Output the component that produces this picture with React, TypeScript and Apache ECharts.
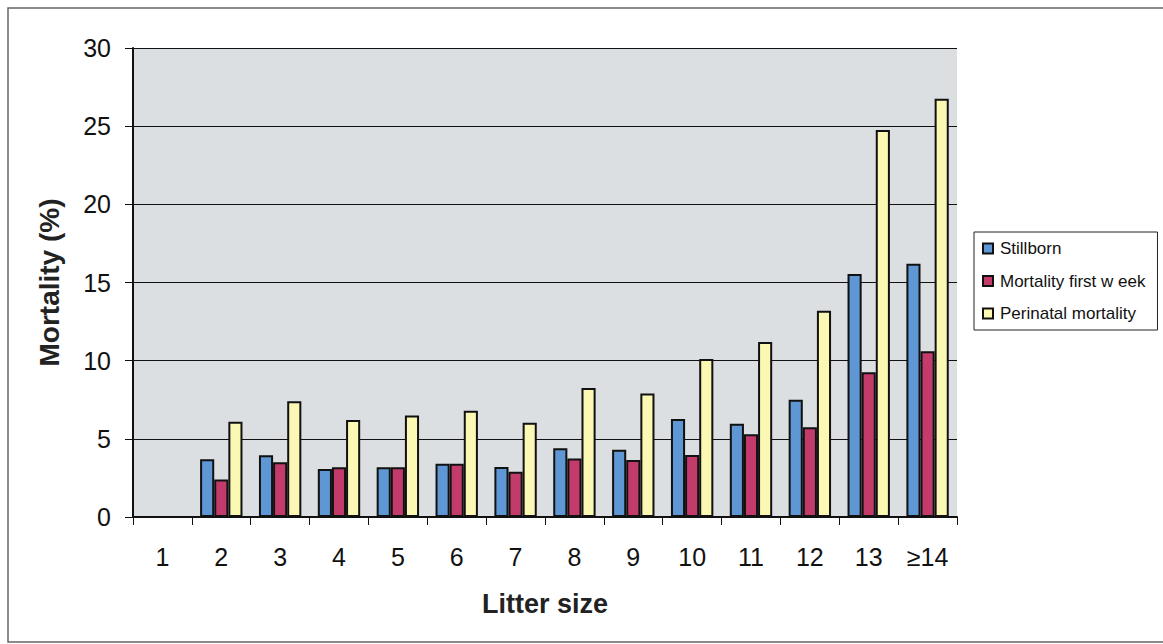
import React, { useEffect, useRef } from "react";
import * as echarts from "echarts";

const categories = ["1", "2", "3", "4", "5", "6", "7", "8", "9", "10", "11", "12", "13", "≥14"];
const stillborn = [null, 3.7, 3.95, 3.07, 3.18, 3.4, 3.2, 4.4, 4.3, 6.27, 5.97, 7.5, 15.55, 16.2];
const mortalityFirstWeek = [null, 2.4, 3.5, 3.18, 3.18, 3.4, 2.9, 3.75, 3.65, 3.97, 5.3, 5.74, 9.26, 10.6];
const perinatalMortality = [null, 6.1, 7.4, 6.2, 6.5, 6.8, 6.03, 8.25, 7.9, 10.1, 11.2, 13.2, 24.76, 26.75];
const seriesNames = ["Stillborn", "Mortality first w eek", "Perinatal mortality"];

export default function App() {
  const ref = useRef<HTMLDivElement>(null);
  useEffect(() => {
    if (!ref.current) return;
    const chart = echarts.init(ref.current, undefined, { renderer: "svg" });
    const font = "'Liberation Sans', Arial, sans-serif";
    const mk = (name: string, data: (number | null)[], color: string) => ({
      name,
      type: "bar",
      data,
      barGap: "0%",
      barCategoryGap: "28%",
      itemStyle: { color, borderColor: "#111", borderWidth: 2 },
    });
    chart.setOption({
      animation: false,
      backgroundColor: "#ffffff",
      textStyle: { fontFamily: font },
      graphic: [
        {
          type: "rect",
          shape: { x: 8, y: 8, width: 1165, height: 634 },
          style: { fill: "none", stroke: "#666", lineWidth: 1.5 },
          silent: true,
          z: -10,
        },
      ],
      grid: { left: 133, top: 48, right: 206, bottom: 127, show: true, backgroundColor: "#dcdfe2", borderWidth: 0 },
      legend: {
        orient: "vertical",
        left: 974,
        top: 232,
        padding: [8, 12, 8, 8],
        borderColor: "#222",
        borderWidth: 1,
        itemWidth: 10,
        itemHeight: 10,
        itemGap: 15.5,
        icon: "rect",
        textStyle: { fontSize: 17, color: "#111", fontFamily: font, padding: [0, 0, 0, 2] },
        data: seriesNames,
      },
      xAxis: {
        type: "category",
        data: categories,
        name: "Litter size",
        nameLocation: "middle",
        nameGap: 73,
        nameTextStyle: { fontSize: 27, fontWeight: "bold", color: "#222" },
        axisLine: { lineStyle: { color: "#111", width: 2 } },
        axisTick: { show: true, length: 8, lineStyle: { color: "#111" } },
        axisLabel: { fontSize: 25, color: "#111", margin: 27 },
      },
      yAxis: {
        type: "value",
        min: 0,
        max: 30,
        interval: 5,
        name: "Mortality (%)",
        nameLocation: "middle",
        nameGap: 70,
        nameTextStyle: { fontSize: 28, fontWeight: "bold", color: "#222" },
        axisLine: { show: true, lineStyle: { color: "#111", width: 2 } },
        axisTick: { show: true, length: 8, lineStyle: { color: "#111" } },
        axisLabel: { fontSize: 25, color: "#111", margin: 22 },
        splitLine: { lineStyle: { color: "#111", width: 1.2 } },
      },
      series: [
        mk(seriesNames[0], stillborn, "#5f96d4"),
        mk(seriesNames[1], mortalityFirstWeek, "#c23b6b"),
        mk(seriesNames[2], perinatalMortality, "#fbf8b3"),
      ],
    });
    return () => chart.dispose();
  }, []);
  return <div ref={ref} style={{ width: 1163, height: 644, position: "absolute", left: 0, top: 0 }} />;
}
